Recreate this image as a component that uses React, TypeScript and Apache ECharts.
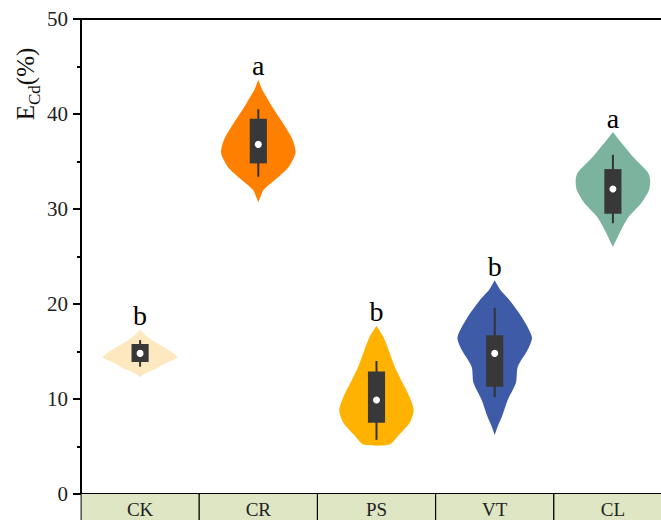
import React, { useEffect, useRef } from 'react';
import * as echarts from 'echarts';

const categories = ['CK', 'CR', 'PS', 'VT', 'CL'];
const colors = ['#FDE8BF', '#FF8000', '#FFB300', '#3E5BA8', '#7BB39F'];
const letters = ['b', 'a', 'b', 'b', 'a'];

// [lower whisker, Q1, median, Q3, upper whisker]
const boxCK = [13.4, 13.9, 14.8, 15.8, 16.2];
const boxCR = [33.4, 34.8, 36.8, 39.5, 40.5];
const boxPS = [5.7, 7.5, 9.9, 12.9, 14.0];
const boxVT = [10.2, 11.3, 14.8, 16.7, 19.6];
const boxCL = [28.5, 29.5, 32.1, 34.2, 35.7];

// violin outline: values and relative density (max = 1)
const ckY = [12.3, 12.6, 13.1, 13.8, 14.4, 14.8, 15.5, 16.0, 16.5, 16.9, 17.3];
const ckD = [0, 0.1, 0.38, 0.7, 1.0, 0.9, 0.62, 0.4, 0.22, 0.1, 0];
const crY = [30.7, 31.2, 32.0, 33.1, 34.4, 35.9, 37.3, 39.1, 40.7, 41.8, 42.5, 43.6];
const crD = [0, 0.05, 0.14, 0.46, 0.81, 1.0, 0.92, 0.65, 0.38, 0.22, 0.11, 0];
const psY = [5.2, 6.2, 7.5, 8.8, 10.2, 11.7, 13.4, 15.2, 16.5, 17.7];
const psD = [0.35, 0.6, 0.89, 1.0, 0.89, 0.7, 0.49, 0.32, 0.19, 0];
const vtY = [6.2, 7.1, 8.1, 9.9, 11.7, 13.4, 15.2, 16.5, 18.6, 20.4, 21.5, 22.5];
const vtD = [0, 0.08, 0.19, 0.35, 0.57, 0.62, 0.89, 1.0, 0.73, 0.4, 0.15, 0];
const clY = [26.0, 27.8, 29.2, 30.6, 32.0, 33.05, 33.8, 35.5, 36.4, 37.3, 38.1];
const clD = [0, 0.22, 0.43, 0.76, 0.97, 1.0, 0.95, 0.54, 0.35, 0.16, 0];

const boxes = [boxCK, boxCR, boxPS, boxVT, boxCL];
const profY = [ckY, crY, psY, vtY, clY];
const profD = [ckD, crD, psD, vtD, clD];

const yMin = 0;
const yMax = 50;
const yInterval = 10;

const serif = "'Liberation Serif', 'Times New Roman', serif";

export default function App() {
  const ref = useRef<HTMLDivElement>(null);
  useEffect(() => {
    if (!ref.current) return;
    const chart = echarts.init(ref.current, null, { renderer: 'svg' });
    const option: any = {
      animation: false,
      backgroundColor: '#fff',
      grid: {
        left: 81, top: 19, width: 591, height: 475,
        outerBoundsMode: 'none', containLabel: false,
        show: true, borderColor: '#000', borderWidth: 2, backgroundColor: 'transparent',
      },
      xAxis: {
        type: 'category',
        data: categories,
        boundaryGap: true,
        axisLine: { lineStyle: { color: '#000', width: 2 } },
        axisTick: { show: false },
        splitLine: { show: false },
        axisLabel: {
          interval: 0,
          margin: 0,
          color: '#222',
          fontFamily: serif,
          fontSize: 19,
          backgroundColor: '#DEE6C4',
          borderColor: '#000',
          borderWidth: 1,
          width: 117,
          height: 30,
          lineHeight: 30,
          padding: 0,
          align: 'center',
          verticalAlign: 'top',
        },
      },
      yAxis: {
        type: 'value',
        min: yMin,
        max: yMax,
        interval: yInterval,
        axisLine: { show: true, lineStyle: { color: '#000', width: 2 } },
        axisTick: { show: true, length: 8, lineStyle: { color: '#000', width: 2 } },
        minorTick: { show: true, splitNumber: 2, length: 4, lineStyle: { color: '#000', width: 2 } },
        splitLine: { show: false },
        axisLabel: { margin: 13, fontSize: 21, fontFamily: serif, color: '#222' },
      },
      graphic: [
        {
          type: 'text',
          x: 28,
          y: 84,
          rotation: Math.PI / 2,
          style: {
            text: '{e|E}{s|Cd}{p|(%)}',
            align: 'center',
            verticalAlign: 'middle',
            fill: '#111',
            rich: {
              e: { fontFamily: serif, fontSize: 25, fill: '#111', verticalAlign: 'bottom', padding: [0, 0, 5, 0] },
              s: { fontFamily: serif, fontSize: 17, fill: '#111', verticalAlign: 'bottom' },
              p: { fontFamily: serif, fontSize: 25, fill: '#111', verticalAlign: 'bottom', padding: [0, 0, 5, 0] },
            },
          },
        },
      ],
      series: [
        {
          type: 'custom',
          clip: false,
          data: categories.map((c, i) => [i, boxes[i][2]]),
          encode: { x: 0, y: 1 },
          renderItem: (params: any, api: any) => {
            const i = api.value(0);
            const cx = api.coord([i, 0])[0];
            const band = api.size([1, 0])[0];
            const half = band * 0.315;
            const ys = profY[i];
            const ds = profD[i];
            const left = ys.map((v, k) => [cx - ds[k] * half, api.coord([i, v])[1]]);
            const right = ys.map((v, k) => [cx + ds[k] * half, api.coord([i, v])[1]]).reverse();
            const pts = left.concat(right);
            const b = boxes[i];
            const yLo = api.coord([i, b[0]])[1];
            const yQ1 = api.coord([i, b[1]])[1];
            const yMed = api.coord([i, b[2]])[1];
            const yQ3 = api.coord([i, b[3]])[1];
            const yHi = api.coord([i, b[4]])[1];
            const bw = band * 0.145;
            const tipY = api.coord([i, ys[ys.length - 1]])[1];
            return {
              type: 'group',
              children: [
                { type: 'polygon', shape: { points: pts, smooth: 0.25 }, style: { fill: colors[i], stroke: 'none' } },
                { type: 'line', shape: { x1: cx, y1: yHi, x2: cx, y2: yLo }, style: { stroke: '#333', lineWidth: 2 } },
                { type: 'rect', shape: { x: cx - bw / 2, y: yQ3, width: bw, height: yQ1 - yQ3 }, style: { fill: '#383838', stroke: 'none' } },
                { type: 'circle', shape: { cx, cy: yMed, r: 3.5 }, style: { fill: '#fff' } },
                {
                  type: 'text',
                  x: cx,
                  y: tipY,
                  style: { text: letters[i], align: 'center', verticalAlign: 'bottom', fontFamily: serif, fontSize: 28, fill: '#000' },
                },
              ],
            };
          },
        },
      ],
    };
    chart.setOption(option);
    return () => chart.dispose();
  }, []);
  return <div ref={ref} style={{ position: 'fixed', left: 0, top: 0, width: 661, height: 520 }} />;
}
